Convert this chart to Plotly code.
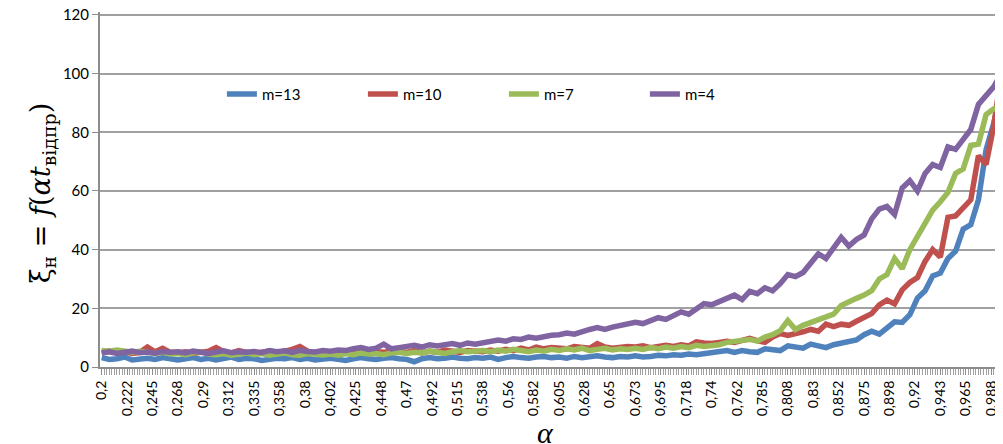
import plotly.graph_objects as go

# category grid (every 3rd category of the original chart)
X_START = 0.2
X_STEP = 0.00675

m13 = [3.2, 2.6, 2.8, 3.4, 2.4, 2.8, 3.0, 2.6, 3.2, 2.8,
       2.4, 2.8, 3.2, 2.6, 3.0, 2.4, 2.8, 3.4, 2.6, 3.0,
       2.8, 2.2, 2.6, 3.0, 2.8, 3.2, 2.6, 3.0, 2.4, 2.8,
       3.0, 2.6, 2.2, 2.8, 3.2, 2.8, 2.6, 3.0, 3.2, 2.8,
       2.6, 1.8, 2.8, 3.2, 2.8, 3.0, 3.4, 3.0, 2.8, 3.2,
       3.0, 3.4, 2.6, 3.2, 3.6, 3.2, 3.0, 3.4, 3.6, 3.2,
       3.4, 3.0, 3.6, 3.2, 3.4, 3.8, 3.4, 3.2, 3.6, 3.4,
       3.8, 3.4, 3.6, 4.0, 3.8, 4.2, 4.0, 4.4, 4.2, 4.6,
       4.8, 5.2, 5.6, 5.0, 5.6, 5.2, 5.0, 6.2, 6.0, 5.6,
       7.2, 6.6, 6.4, 7.8, 7.0, 6.6, 7.6, 8.2, 8.8, 9.2,
       11.0, 12.2, 11.2, 13.4, 15.4, 15.2, 17.8, 23.5, 26.0, 31.0,
       32.0, 37.0, 39.5, 47.0, 48.5, 57.0, 74.0, 83.0, 95.0]

m10 = [5.0, 5.4, 4.8, 5.2, 4.6, 5.0, 6.8, 5.2, 6.4, 5.0,
       4.8, 5.2, 4.6, 5.0, 5.4, 6.6, 5.2, 4.8, 5.6, 5.0,
       4.6, 5.0, 5.4, 4.8, 5.2, 6.0, 7.0, 5.4, 4.8, 5.2,
       4.8, 5.2, 4.6, 5.0, 5.4, 4.8, 5.2, 5.0, 5.6, 5.2,
       5.0, 5.6, 4.8, 5.4, 5.0, 5.8, 5.2, 5.0, 5.6, 5.4,
       5.2, 5.8, 5.4, 6.0, 5.6, 6.4, 5.8, 6.8, 6.2, 6.6,
       6.6, 6.2, 7.0, 6.6, 6.4, 8.0, 6.8, 6.4, 6.8, 7.0,
       6.8, 7.2, 6.6, 7.0, 7.4, 7.0, 7.6, 7.2, 8.6, 8.2,
       8.0, 8.4, 8.8, 8.4, 9.2, 9.8, 9.0, 8.4, 10.2, 11.4,
       10.8, 11.2, 12.0, 12.8, 12.2, 14.6, 13.8, 14.6, 14.2, 15.6,
       17.0, 18.2, 21.2, 22.8, 21.5, 26.3, 28.8, 30.5, 36.0, 40.0,
       37.5, 51.0, 51.5, 54.5, 57.0, 72.0, 69.0, 82.0, 100.0]

m7 = [5.6, 5.4, 5.8, 5.2, 5.0, 5.4, 4.8, 4.6, 5.0, 4.4,
      4.6, 4.2, 4.8, 5.2, 4.4, 4.2, 4.6, 4.0, 4.4, 4.8,
      4.2, 4.6, 4.0, 4.4, 4.8, 4.2, 4.0, 4.6, 4.3, 4.1,
      4.4, 4.0, 4.6, 4.2, 4.8, 4.4, 4.6, 4.2, 4.8, 5.0,
      4.6, 5.0, 4.8, 5.4, 5.0, 4.6, 5.2, 5.6, 5.2, 5.4,
      5.6, 5.2, 5.8, 5.4, 6.0, 5.6, 5.2, 5.8, 5.4, 6.0,
      5.6, 6.2, 5.8, 6.4, 5.6, 6.0, 6.4, 5.8, 6.2, 6.0,
      6.4, 6.0, 6.6, 6.2, 6.8, 6.4, 7.0, 6.6, 7.4, 7.0,
      7.2, 7.6, 8.4, 8.8, 9.0, 9.4, 8.8, 10.2, 11.0, 12.4,
      15.8, 12.8, 14.2, 15.2, 16.4, 17.0, 18.0, 21.0, 22.4, 23.4,
      24.5, 26.0, 30.0, 31.5, 37.0, 33.5, 40.0, 44.5, 49.0, 53.5,
      56.3, 59.5, 66.0, 67.5, 75.5, 76.0, 86.0, 88.0, 89.0]

m4 = [4.8, 5.2, 4.6, 5.0, 5.4, 4.9, 5.1, 4.7, 5.3, 5.0,
      5.2, 4.8, 5.4, 5.0, 4.6, 5.1, 5.5, 4.9, 5.2, 5.0,
      5.3, 4.9, 5.6, 5.2, 5.5, 5.0, 5.7, 5.3, 5.1, 5.6,
      5.4, 5.8, 5.6, 6.2, 6.6, 6.0, 6.4, 7.8, 6.2, 6.6,
      7.0, 7.4, 6.8, 7.6, 7.2, 7.8, 8.0, 7.4, 8.2, 7.8,
      8.4, 8.8, 9.2, 8.8, 9.6, 9.4, 10.2, 9.8, 10.4, 10.8,
      11.0, 11.6, 11.2, 12.2, 12.8, 13.4, 12.8, 13.6, 14.2, 14.6,
      15.2, 14.8, 16.0, 16.8, 16.2, 17.6, 18.8, 18.0, 19.6, 21.6,
      21.2, 22.4, 23.8, 24.5, 23.0, 25.8, 25.0, 27.0, 26.0, 28.4,
      31.5, 30.8, 32.2, 35.6, 38.6, 37.0, 41.0, 44.2, 41.2, 43.5,
      45.0, 50.5, 53.8, 54.7, 52.0, 61.0, 63.5, 60.0, 66.0, 69.0,
      68.0, 75.0, 74.2, 77.5, 81.0, 89.5, 92.5, 95.5, 100.0]

series_names = ["m=13", "m=10", "m=7", "m=4"]
series_values = [m13, m10, m7, m4]
series_colors = ["#4F81BD", "#C0504D", "#9BBB59", "#8064A2"]

tick_labels = ["0,2", "0,222", "0,245", "0,268", "0,29", "0,312", "0,335", "0,358",
               "0,38", "0,402", "0,425", "0,448", "0,47", "0,492", "0,515", "0,538",
               "0,56", "0,582", "0,605", "0,628", "0,65", "0,673", "0,695", "0,718",
               "0,74", "0,762", "0,785", "0,808", "0,83", "0,852", "0,875", "0,898",
               "0,92", "0,943", "0,965", "0,988"]
TICK_STEP = 0.0225
tick_vals = [round(X_START + TICK_STEP * j, 5) for j in range(len(tick_labels))]
y_ticks = [0, 20, 40, 60, 80, 100, 120]

x = [round(X_START + X_STEP * k, 5) for k in range(len(m4))]

fig = go.Figure()
for name, vals, col in zip(series_names, series_values, series_colors):
    fig.add_trace(go.Scatter(x=x, y=vals, mode="lines", name=name,
                             line=dict(color=col, width=5.5)))

FONT = "Lato, 'Open Sans', sans-serif"
fig.update_layout(
    width=995, height=436,
    margin=dict(l=92, r=0, t=4, b=77, autoexpand=False),
    paper_bgcolor="white", plot_bgcolor="white",
    font=dict(family=FONT, size=15, color="#000"),
    showlegend=True,
    legend=dict(orientation="h", x=0.135, y=0.768, xanchor="left", yanchor="middle",
                entrywidth=96, entrywidthmode="pixels",
                font=dict(family=FONT, size=15, color="#000"),
                bgcolor="rgba(0,0,0,0)"),
    xaxis=dict(range=[0.1985, 0.998], tickvals=tick_vals, ticktext=tick_labels,
               tickangle=-90, showgrid=False, zeroline=False, automargin=False,
               showline=True, linecolor="#8C8C8C", linewidth=2,
               ticks="outside", ticklen=6, tickcolor="#8C8C8C",
               tickfont=dict(family=FONT, size=14, color="#000"),
               minor=dict(dtick=0.00225, tick0=0.2, ticks="outside", ticklen=6,
                          tickcolor="#A0A0A0", showgrid=False)),
    yaxis=dict(range=[0, 121], tickvals=y_ticks, showgrid=True, gridcolor="#A0A0A0",
               gridwidth=2, zeroline=False, showline=True, linecolor="#8C8C8C",
               linewidth=2, ticks="outside", ticklen=6, tickcolor="#8C8C8C",
               automargin=False, ticklabeloverflow="allow",
               tickfont=dict(family=FONT, size=15, color="#000")),
    annotations=[
        dict(text="ξ<sub>н</sub> = <i>f</i>(<i>αt</i><sub>відпр</sub>)",
             xref="paper", yref="paper", x=-0.064, y=0.49, showarrow=False,
             textangle=-90, xanchor="center", yanchor="middle",
             font=dict(family="'DejaVu Serif', 'Liberation Serif', serif", size=27, color="#000")),
        dict(text="<i>α</i>", xref="paper", yref="paper", x=0.493, y=-0.185,
             showarrow=False, xanchor="center", yanchor="middle",
             font=dict(family="'Liberation Serif', serif", size=30, color="#000")),
    ],
)

fig.write_html("out.html")
